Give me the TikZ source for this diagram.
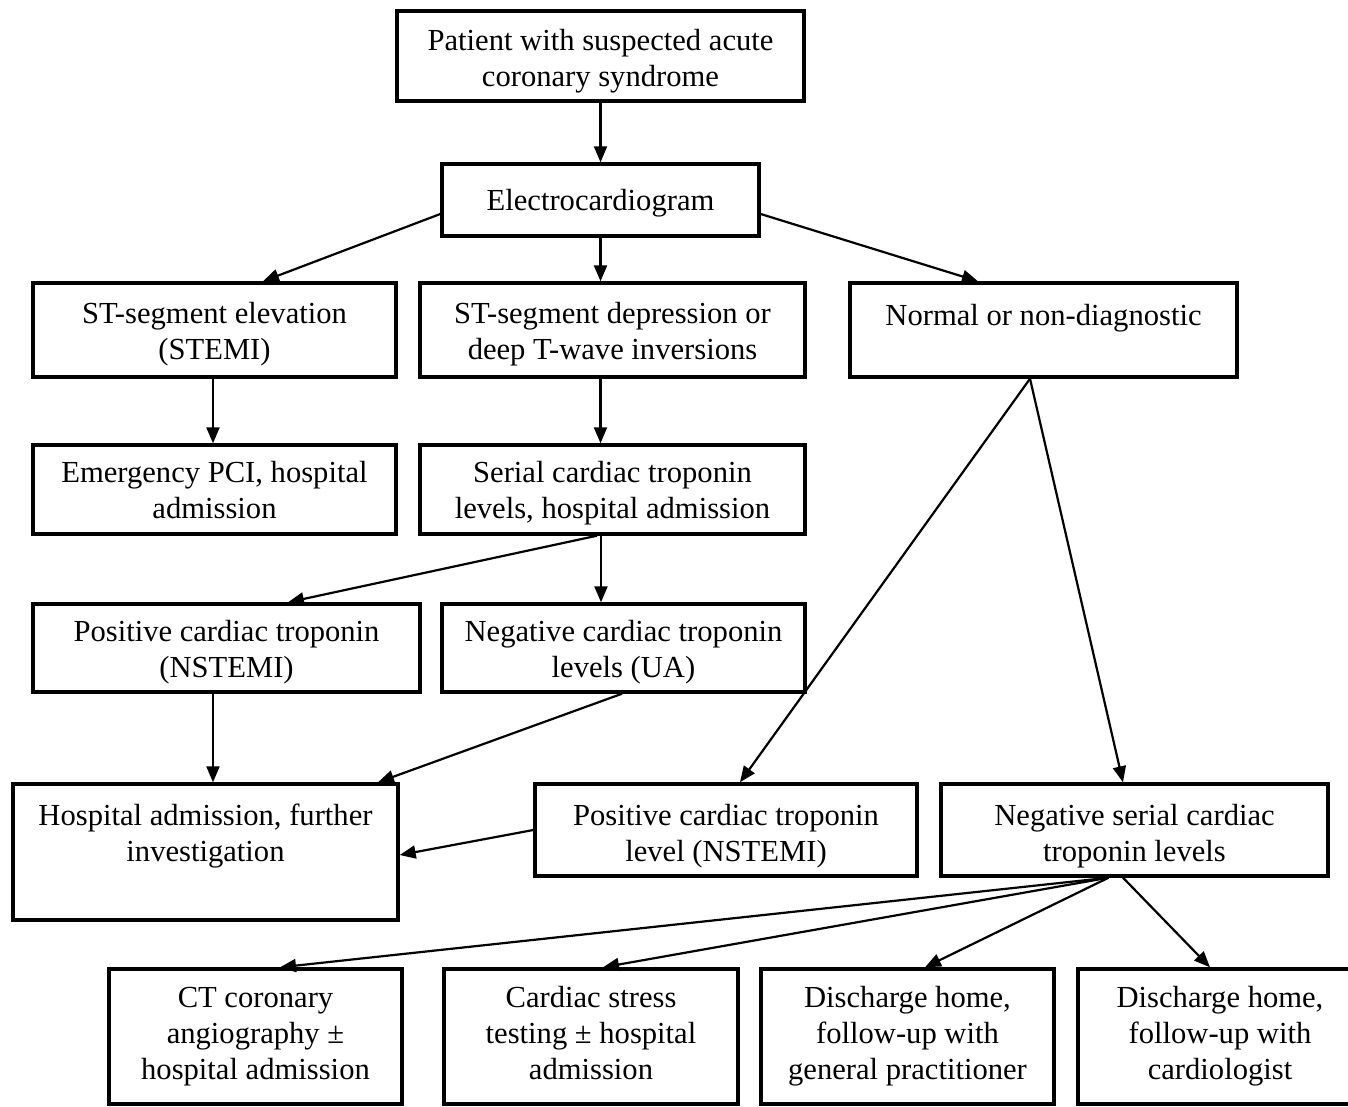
\documentclass[tikz,border=0pt]{standalone}
\usepackage{fontspec}
\setmainfont{Liberation Serif}
\usetikzlibrary{arrows.meta,calc}
\tikzset{
  bx/.style={draw, line width=1.7pt, inner sep=0pt, align=center,
    font=\fontsize{15.3pt}{18pt}\selectfont},
  arr/.style={line width=1.1pt, -{Triangle[length=8pt,width=6.5pt]}},
}
\newcommand\boxat[7][4]{\node[bx, minimum width={(#5-#3)*0.5pt}, minimum height={(#6-#4)*0.5pt}] (#2) at ({(#3+#5)/2},{(#4+#6)/2}) {\raisebox{\dimexpr -#1pt/2\relax}[\height][\depth]{\begin{tabular}{@{}c@{}}#7\end{tabular}}};}
\begin{document}
\begin{tikzpicture}[x=0.5pt,y=-0.5pt]
\useasboundingbox (0,0) rectangle (1348,1107);
\clip (0,0) rectangle (1348,1107);
\boxat[5]{pat}{397}{11}{804}{101}{Patient with suspected acute\\coronary syndrome}
\boxat[3]{ecg}{442}{164}{759}{236}{Electrocardiogram}
\boxat{stemi}{33}{283}{396}{377}{ST-segment elevation\\(STEMI)}
\boxat{dep}{420}{283}{805}{377}{ST-segment depression or\\deep T-wave inversions}
\boxat[6]{norm}{850}{283}{1237}{377}{Normal or non-diagnostic\\\mbox{}}
\boxat{pci}{33}{445}{396}{534}{Emergency PCI, hospital\\admission}
\boxat{ser}{420}{445}{805}{534}{Serial cardiac troponin\\levels, hospital admission}
\boxat{pos}{33}{604}{420}{692}{Positive cardiac troponin\\(NSTEMI)}
\boxat{ua}{442}{604}{805}{692}{Negative cardiac troponin\\levels (UA)}
\boxat[2]{hosp}{13}{784}{398}{920}{Hospital admission, further\\investigation\\\mbox{}}
\boxat[6]{posl}{535}{784}{917}{876}{Positive cardiac troponin\\level (NSTEMI)}
\boxat[6]{negs}{941}{784}{1328}{876}{Negative serial cardiac\\troponin levels}
\boxat[0]{ct}{109}{969}{402}{1104}{CT coronary\\angiography ±\\hospital admission}
\boxat[0]{st}{444}{969}{738}{1104}{Cardiac stress\\testing ± hospital\\admission}
\boxat[0]{gp}{761}{969}{1054}{1104}{Discharge home,\\follow-up with\\general practitioner}
\boxat[0]{card}{1078}{969}{1362}{1104}{Discharge home,\\follow-up with\\cardiologist}
% connectors
\draw[arr] (pat.south) -- (ecg.north);
\draw[arr] ($(ecg.west)+(0,14)$) -- ($(stemi.north)+(48.5,0)$);
\draw[arr] (ecg.south) -- (ecg.south |- dep.north);
\draw[arr] ($(ecg.east)+(0,14)$) -- ($(norm.north)+(-65.5,0)$);
\draw[arr] ($(stemi.south)+(-1.5,0)$) -- ($(pci.north)+(-1.5,0)$);
\draw[arr] (ecg.south |- dep.south) -- (ecg.south |- ser.north);
\coordinate (nsplit) at ($(norm.south)+(-13.5,0)$);
\draw[arr] (nsplit) -- ($(posl.north)+(14,0)$);
\draw[arr] (nsplit) -- ($(negs.north)+(-11.5,0)$);
\coordinate (sersrc) at ($(ser.south)+(-15.5,0)$);
\draw[arr] (sersrc) -- ($(pos.north)+(61.5,0)$);
\draw[arr] ($(ser.south)+(-11.5,0)$) -- ($(ua.north)+(-22.5,0)$);
\draw[arr] ($(pos.south)+(-13.5,0)$) -- ($(hosp.north)+(7.5,0)$);
\draw[arr] ($(ua.south)+(-1.5,0)$) -- ($(hosp.north)+(172.5,0)$);
\draw[arr] (posl.west) -- ($(hosp.east)+(0,3)$);
\coordinate (negsrc) at ($(negs.south)+(-26,0)$);
\draw[arr] (negsrc) -- ($(ct.north)+(24.5,0)$);
\draw[arr] (negsrc) -- ($(st.north)+(12,0)$);
\draw[arr] (negsrc) -- ($(gp.north)+(17.5,0)$);
\draw[arr] ($(negs.south)+(-11.5,0)$) -- ($(card.north)+(-10,0)$);
\end{tikzpicture}
\end{document}
